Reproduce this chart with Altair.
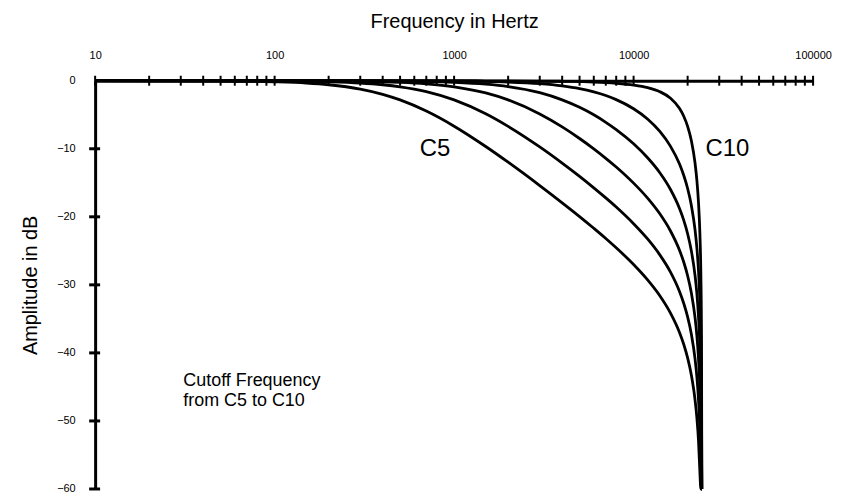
import altair as alt
import pandas as pd

# ---- data ----
FREQ = [10, 50, 100, 150, 200, 300, 400, 500, 700, 1000, 1500, 2000, 3000, 4000, 5000,
        6000, 7000, 8000, 10000, 12000, 14000, 16000, 18000, 19000, 20000, 21000, 22000,
        22500, 23000, 23400, 23700, 23900, 24000]
C5 = [0, -0.04, -0.16, -0.34, -0.59, -1.23, -2.00, -2.82, -4.46, -6.68, -9.67, -11.98, -15.41,
      -17.94, -19.96, -21.68, -23.18, -24.55, -27.01, -29.31, -31.60, -34.08, -36.96, -38.69,
      -40.74, -43.33, -46.92, -49.44, -52.97, -57.42, -60, -60, -60]
C6 = [0, -0.01, -0.04, -0.09, -0.16, -0.34, -0.59, -0.89, -1.60, -2.82, -4.86, -6.71, -9.73,
      -12.11, -14.06, -15.74, -17.22, -18.56, -21.01, -23.29, -25.59, -28.05, -30.93, -32.66,
      -34.71, -37.30, -40.88, -43.41, -46.94, -51.39, -57.41, -60, -60]
C7 = [0, 0, -0.01, -0.02, -0.04, -0.09, -0.15, -0.24, -0.46, -0.89, -1.79, -2.81, -4.89,
      -6.79, -8.49, -10.01, -11.40, -12.68, -15.05, -17.29, -19.56, -22.01, -24.88, -26.61,
      -28.66, -31.24, -34.82, -37.34, -40.88, -45.33, -51.35, -60, -60]
C8 = [0, 0, 0, -0.01, -0.01, -0.02, -0.04, -0.06, -0.11, -0.23, -0.50, -0.86, -1.76,
      -2.81, -3.91, -5.01, -6.11, -7.18, -9.27, -11.36, -13.52, -15.91, -18.74, -20.45,
      -22.49, -25.07, -28.64, -31.16, -34.70, -39.14, -45.16, -54.71, -60]
C9 = [0, 0, 0, 0, 0, 0, -0.01, -0.01, -0.02, -0.05, -0.11, -0.20, -0.44,
      -0.77, -1.17, -1.65, -2.18, -2.78, -4.12, -5.66, -7.45, -9.57, -12.21, -13.86,
      -15.84, -18.38, -21.93, -24.44, -27.97, -32.42, -38.43, -47.97, -60]
C10 = [0, 0, 0, 0, 0, 0, 0, 0, 0, 0, -0.01, -0.02, -0.05,
       -0.08, -0.13, -0.19, -0.27, -0.37, -0.63, -1.02, -1.61, -2.54, -4.05, -5.18,
       -6.71, -8.86, -12.12, -14.52, -17.97, -22.37, -28.37, -37.91, -60]
CURVES = {"C5": C5, "C6": C6, "C7": C7, "C8": C8, "C9": C9, "C10": C10}

X_LABEL_VALUES = [10, 100, 1000, 10000, 100000]
X_TICKS = [m * 10 ** e for e in range(1, 5) for m in range(1, 10)] + [100000]
Y_VALUES = [0, -10, -20, -30, -40, -50, -60]
Y_TICKS = [-10, -20, -30, -40, -50, -60]

BIG_LABELS = ["C5", "C10"]
BIG_FREQ = [782, 33300]
BIG_DB = [-10, -10]
NOTE_LABELS = ["Cutoff Frequency", "from C5 to C10"]
NOTE_FREQ = [31, 31]
NOTE_DB = [-44.2, -47.05]

# ---- tables ----
rows = []
for name, vals in CURVES.items():
    for f, d in zip(FREQ, vals):
        rows.append({"curve": name, "freq": f, "db": d})
df = pd.DataFrame(rows)
xt = pd.DataFrame({"freq": X_TICKS})
yt = pd.DataFrame({"db": Y_TICKS})
big = pd.DataFrame({"freq": BIG_FREQ, "db": BIG_DB, "label": BIG_LABELS})
note = pd.DataFrame({"freq": NOTE_FREQ, "db": NOTE_DB, "label": NOTE_LABELS})

xscale = alt.Scale(type="log", domain=[10, 100000], nice=False)
yscale = alt.Scale(domain=[-60, 0], nice=False)

xaxis = alt.Axis(orient="top", values=X_LABEL_VALUES, format="d", ticks=False, grid=False,
                 domainWidth=3, domainColor="black", labelFontSize=11, labelColor="black",
                 labelPadding=20, labelFlush=False, title="Frequency in Hertz",
                 titleFontSize=20, titleFontWeight="normal", titleColor="black", titlePadding=18)
yaxis = alt.Axis(values=Y_VALUES, ticks=False, grid=False, domainWidth=3, domainColor="black",
                 labelFontSize=11, labelColor="black", labelPadding=20, labelFlush=False,
                 title="Amplitude in dB", titleFontSize=20, titleFontWeight="normal",
                 titleColor="black", titlePadding=16)

lines = alt.Chart(df).mark_line(interpolate="monotone", color="black", strokeWidth=2.8).encode(
    x=alt.X("freq:Q", scale=xscale, axis=xaxis),
    y=alt.Y("db:Q", scale=yscale, axis=yaxis),
    detail="curve:N",
)

xticks = alt.Chart(xt).mark_rule(color="black", strokeWidth=2).encode(
    x=alt.X("freq:Q", scale=xscale),
    y=alt.value(-5), y2=alt.value(5),
)
yticks = alt.Chart(yt).mark_rule(color="black", strokeWidth=3).encode(
    y=alt.Y("db:Q", scale=yscale),
    x=alt.value(-6), x2=alt.value(5),
)

big_text = alt.Chart(big).mark_text(fontSize=24, align="center", baseline="middle", color="black").encode(
    x=alt.X("freq:Q", scale=xscale), y=alt.Y("db:Q", scale=yscale), text="label:N"
)
note_text = alt.Chart(note).mark_text(fontSize=18, align="left", baseline="middle", color="black").encode(
    x=alt.X("freq:Q", scale=xscale), y=alt.Y("db:Q", scale=yscale), text="label:N"
)

chart = alt.layer(lines, xticks, yticks, big_text, note_text).properties(
    width=721, height=410,
    autosize=alt.AutoSizeParams(type="none"),
    padding={"left": 87.5, "top": 72, "right": 20, "bottom": 5},
).configure(font="Liberation Sans").configure_view(stroke=None)

chart.save("out.html", embed_options={"renderer": "svg", "actions": False})
